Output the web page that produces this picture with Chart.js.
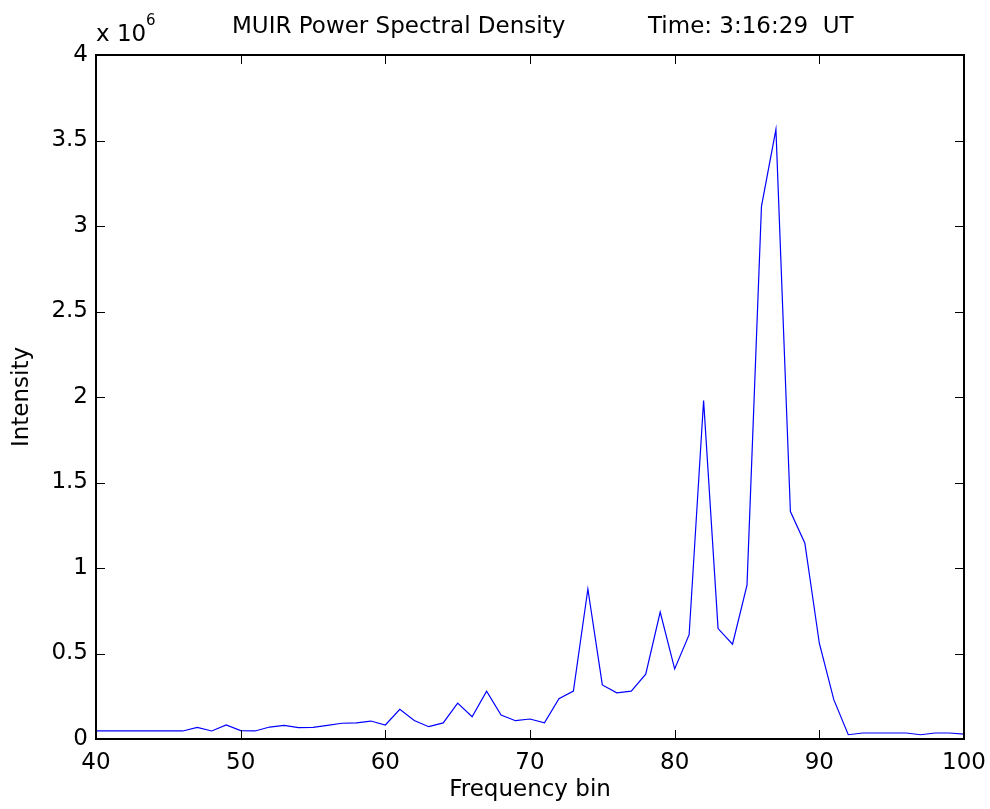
<!DOCTYPE html>
<html>
<head>
<meta charset="utf-8">
<script src="https://cdn.jsdelivr.net/npm/chart.js@4"></script>
<style>
  html, body { margin: 0; padding: 0; background: #fff; }
  #wrap { width: 990px; height: 809px; }
</style>
</head>
<body>
<div id="wrap"><canvas id="psdChart" width="990" height="809"></canvas></div>
<script>
// Frequency bins 40..100
const bins = [
  40, 41, 42, 43, 44, 45, 46, 47, 48, 49,
  50, 51, 52, 53, 54, 55, 56, 57, 58, 59,
  60, 61, 62, 63, 64, 65, 66, 67, 68, 69,
  70, 71, 72, 73, 74, 75, 76, 77, 78, 79,
  80, 81, 82, 83, 84, 85, 86, 87, 88, 89,
  90, 91, 92, 93, 94, 95, 96, 97, 98, 99, 100
];
// Intensity, in units of 10^6
const intensity = [
  0.047, 0.047, 0.047, 0.047, 0.047, 0.047, 0.047, 0.068, 0.047, 0.082,
  0.049, 0.047, 0.070, 0.080, 0.066, 0.068, 0.080, 0.092, 0.094, 0.105,
  0.082, 0.174, 0.108, 0.072, 0.094, 0.210, 0.130, 0.280, 0.140, 0.107,
  0.117, 0.094, 0.236, 0.280, 0.877, 0.316, 0.270, 0.280, 0.379, 0.742,
  0.410, 0.610, 1.980, 0.646, 0.554, 0.900, 3.115, 3.565, 1.330, 1.145,
  0.560, 0.230, 0.025, 0.035, 0.035, 0.035, 0.035, 0.025, 0.035, 0.035, 0.028
];
const xTicks = [40, 50, 60, 70, 80, 90, 100];
const yTicks = [0, 0.5, 1, 1.5, 2, 2.5, 3, 3.5, 4];

const FONT = '"DejaVu Sans", sans-serif';
const FSIZE = 23;

// caja tipo MATLAB con marcas hacia dentro + titulo y exponente
const boxPlugin = {
  id: 'matlabBox',
  afterDraw(chart) {
    const { ctx, chartArea: a, scales } = chart;
    ctx.save();
    ctx.strokeStyle = '#000';
    ctx.lineWidth = 1;
    const tl = 9;
    ctx.beginPath();
    xTicks.forEach(v => {
      const px = Math.round(scales.x.getPixelForValue(v)) + 0.5;
      ctx.moveTo(px, a.bottom); ctx.lineTo(px, a.bottom - tl);
      ctx.moveTo(px, a.top); ctx.lineTo(px, a.top + tl);
    });
    yTicks.forEach(v => {
      const py = Math.round(scales.y.getPixelForValue(v)) + 0.5;
      ctx.moveTo(a.left, py); ctx.lineTo(a.left + tl, py);
      ctx.moveTo(a.right, py); ctx.lineTo(a.right - tl, py);
    });
    ctx.stroke();
    ctx.lineWidth = 2;
    ctx.strokeRect(a.left, a.top, a.right - a.left, a.bottom - a.top);

    ctx.fillStyle = '#000';
    ctx.textBaseline = 'alphabetic';
    ctx.font = FSIZE + 'px ' + FONT;
    ctx.textAlign = 'left';
    ctx.fillText('MUIR Power Spectral Density', 232, 33);
    ctx.fillText('Time: 3:16:29  UT', 648, 33);
    ctx.fillText('x 10', 96, 41);
    ctx.font = '15px ' + FONT;
    ctx.fillText('6', 146, 25);
    ctx.restore();
  }
};

const ctx = document.getElementById('psdChart').getContext('2d');
const psdChart = new Chart(ctx, {
  type: 'line',
  data: {
    datasets: [{
      label: 'PSD',
      data: bins.map((b, i) => ({ x: b, y: intensity[i] })),
      borderColor: '#0000ff',
      borderWidth: 1.2,
      pointRadius: 0,
      tension: 0,
      fill: false
    }]
  },
  options: {
    responsive: false,
    animation: false,
    layout: { padding: { left: 0, right: 26, top: 55, bottom: 0 } },
    plugins: {
      legend: { display: false },
      tooltip: { enabled: false }
    },
    scales: {
      x: {
        type: 'linear',
        min: 40,
        max: 100,
        afterBuildTicks: s => { s.ticks = xTicks.map(v => ({ value: v })); },
        afterFit: s => { s.height = 70; s.paddingLeft = 0; s.paddingRight = 0; },
        grid: { display: false, drawTicks: false },
        border: { display: false },
        ticks: { color: '#000', padding: 10, font: { family: FONT, size: FSIZE } },
        title: {
          display: true,
          text: 'Frequency bin',
          color: '#000',
          font: { family: FONT, size: FSIZE },
          padding: { top: 0, bottom: 5 }
        }
      },
      y: {
        type: 'linear',
        min: 0,
        max: 4,
        afterBuildTicks: s => { s.ticks = yTicks.map(v => ({ value: v })); },
        afterFit: s => { s.width = 96; s.paddingTop = 0; s.paddingBottom = 0; },
        grid: { display: false, drawTicks: false },
        border: { display: false },
        ticks: {
          color: '#000',
          padding: 8,
          font: { family: FONT, size: FSIZE },
          callback: v => String(v)
        },
        title: {
          display: true,
          text: 'Intensity',
          color: '#000',
          font: { family: FONT, size: FSIZE },
          padding: { top: 8, bottom: 0 }
        }
      }
    }
  },
  plugins: [boxPlugin]
});
</script>
</body>
</html>
